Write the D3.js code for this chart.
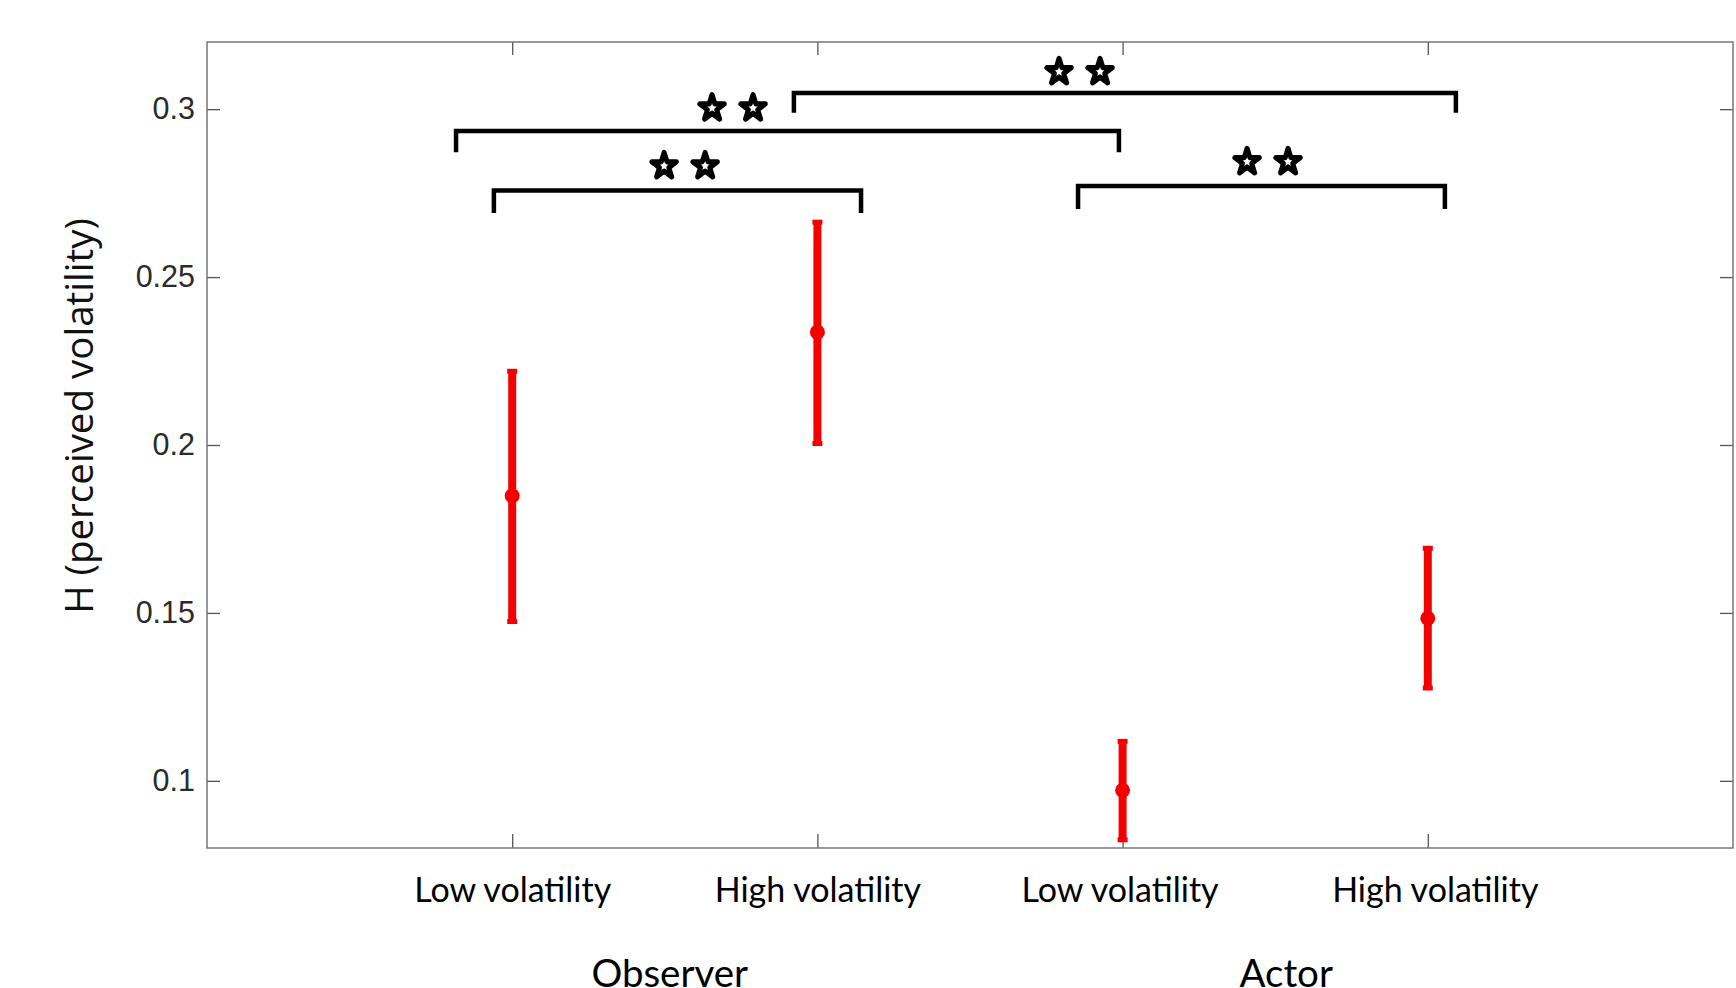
<!DOCTYPE html>
<html>
<head>
<meta charset="utf-8">
<script src="https://cdnjs.cloudflare.com/ajax/libs/d3/7.8.5/d3.min.js"></script>
<style>
  body { margin: 0; background: #fff; }
  svg { display: block; }
</style>
</head>
<body>
<svg id="chart" width="1736" height="988"></svg>
<script>
// data
var categories = ["Low volatility", "High volatility", "Low volatility", "High volatility"];
var groups = ["Observer", "Actor"];
var means = [0.1849, 0.2336, 0.0972, 0.1484];
var lower = [0.1470, 0.2000, 0.0820, 0.1272];
var upper = [0.2224, 0.2668, 0.1122, 0.1697];
var yTicks = [0.1, 0.15, 0.2, 0.25, 0.3];

// significance brackets (x in category units, y in H units)
var bracketFrom = [0.940, 0.816, 1.923, 2.854];
var bracketTo = [2.143, 2.988, 4.092, 4.056];
var bracketLevel = [0.2758, 0.2935, 0.3048, 0.2771];
var bracketLeg = [0.2691, 0.2872, 0.2989, 0.2703];
var starCenter = [1.565, 1.722, 2.859, 3.475];
var starLevel = [0.2831, 0.3003, 0.3111, 0.2843];

(function() {
var svg = d3.select("#chart");

var m = { left: 207, right: 1733, top: 42, bottom: 848 };

// small hand nudges of the pasted labels
var labelShift = [0, 0, -3, 7];
var groupShift = [5, 11];

var x = d3.scaleLinear()
  .domain([0, 5])
  .range([m.left, m.right]);

var y = d3.scaleLinear()
  .domain([0.08, 0.32])
  .range([m.bottom, m.top]);

var idx = d3.range(categories.length);

// axes, ticks pointing inward like matlab
svg.append("g")
  .attr("transform", "translate(" + m.left + ",0)")
  .call(d3.axisLeft(y).tickValues(yTicks).tickSizeInner(-13).tickSizeOuter(0).tickPadding(12)
    .tickFormat(function(d) { return String(d); }))
  .call(function(g) {
    g.select(".domain").remove();
    g.selectAll("line").attr("stroke", "#555").attr("stroke-width", 1.3);
    g.selectAll("text")
      .attr("font-family", "Liberation Sans, Arial, sans-serif")
      .attr("font-size", 30.5)
      .attr("fill", "#2b2b2b");
  });

svg.append("g")
  .attr("transform", "translate(" + m.right + ",0)")
  .call(d3.axisRight(y).tickValues(yTicks).tickSizeInner(-13).tickSizeOuter(0).tickFormat(""))
  .call(function(g) {
    g.select(".domain").remove();
    g.selectAll("line").attr("stroke", "#555").attr("stroke-width", 1.3);
  });

svg.append("g")
  .attr("transform", "translate(0," + m.top + ")")
  .call(d3.axisTop(x).tickValues([1, 2, 3, 4]).tickSizeInner(-13).tickSizeOuter(0).tickFormat(""))
  .call(function(g) {
    g.select(".domain").remove();
    g.selectAll("line").attr("stroke", "#555").attr("stroke-width", 1.3);
  });

svg.append("g")
  .attr("transform", "translate(0," + m.bottom + ")")
  .call(d3.axisBottom(x).tickValues([1, 2, 3, 4]).tickSizeInner(-14).tickSizeOuter(0).tickPadding(30)
    .tickFormat(function(d) { return categories[d - 1]; }))
  .call(function(g) {
    g.select(".domain").remove();
    g.selectAll("line").attr("stroke", "#555").attr("stroke-width", 1.3);
    g.selectAll("text")
      .attr("dx", function(d) { return labelShift[d - 1]; })
      .attr("font-family", "Lato, sans-serif")
      .attr("font-size", 34)
      .attr("fill", "#000");
  });

// box
svg.append("rect")
  .attr("x", m.left)
  .attr("y", m.top)
  .attr("width", m.right - m.left)
  .attr("height", m.bottom - m.top)
  .attr("fill", "none")
  .attr("stroke", "#777")
  .attr("stroke-width", 1.5);

// group labels under pairs of categories
svg.selectAll(".group")
  .data(groups)
  .enter().append("text")
  .attr("class", "group")
  .attr("x", function(d, i) { return (x(2 * i + 1) + x(2 * i + 2)) / 2 + groupShift[i]; })
  .attr("y", 987)
  .attr("text-anchor", "middle")
  .attr("font-family", "Lato, sans-serif")
  .attr("font-size", 38.5)
  .attr("fill", "#000")
  .text(function(d) { return d; });

// y label
svg.append("text")
  .attr("transform", "translate(93,416) rotate(-90)")
  .attr("text-anchor", "middle")
  .attr("font-family", "Open Sans, sans-serif")
  .attr("font-size", 38.5)
  .attr("fill", "#111")
  .text("H (perceived volatility)");

// error bars
var bars = svg.append("g");

bars.selectAll(".err")
  .data(idx)
  .enter().append("line")
  .attr("class", "err")
  .attr("x1", function(i) { return x(i + 1); })
  .attr("x2", function(i) { return x(i + 1); })
  .attr("y1", function(i) { return y(lower[i]); })
  .attr("y2", function(i) { return y(upper[i]); })
  .attr("stroke", "#f40000")
  .attr("stroke-width", 8);

bars.selectAll(".capTop")
  .data(idx)
  .enter().append("rect")
  .attr("class", "capTop")
  .attr("x", function(i) { return x(i + 1) - 5; })
  .attr("y", function(i) { return y(upper[i]) - 1; })
  .attr("width", 10)
  .attr("height", 5)
  .attr("fill", "#f40000");

bars.selectAll(".capBot")
  .data(idx)
  .enter().append("rect")
  .attr("class", "capBot")
  .attr("x", function(i) { return x(i + 1) - 5; })
  .attr("y", function(i) { return y(lower[i]) - 4; })
  .attr("width", 10)
  .attr("height", 5)
  .attr("fill", "#f40000");

bars.selectAll(".dot")
  .data(idx)
  .enter().append("circle")
  .attr("class", "dot")
  .attr("cx", function(i) { return x(i + 1); })
  .attr("cy", function(i) { return y(means[i]); })
  .attr("r", 7.5)
  .attr("fill", "#f40000");

// brackets
var br = svg.append("g");

br.selectAll(".bracket")
  .data(d3.range(bracketFrom.length))
  .enter().append("path")
  .attr("class", "bracket")
  .attr("d", function(i) {
    return "M" + x(bracketFrom[i]) + "," + y(bracketLeg[i]) +
      "V" + y(bracketLevel[i]) +
      "H" + x(bracketTo[i]) +
      "V" + y(bracketLeg[i]);
  })
  .attr("fill", "none")
  .attr("stroke", "#000")
  .attr("stroke-width", 4.5);

// two stars per bracket
var star = d3.symbol().type(d3.symbolStar).size(185);
var starData = [];
d3.range(starCenter.length).forEach(function(i) {
  starData.push({ i: i, off: -20.5 });
  starData.push({ i: i, off: 20.5 });
});

br.selectAll(".star")
  .data(starData)
  .enter().append("path")
  .attr("class", "star")
  .attr("d", star)
  .attr("transform", function(d) {
    return "translate(" + (x(starCenter[d.i]) + d.off) + "," + y(starLevel[d.i]) + ") scale(1,1.05)";
  })
  .attr("fill", "#fff")
  .attr("stroke", "#000")
  .attr("stroke-width", 5)
  .attr("stroke-linejoin", "round");
})();
</script>
</body>
</html>
